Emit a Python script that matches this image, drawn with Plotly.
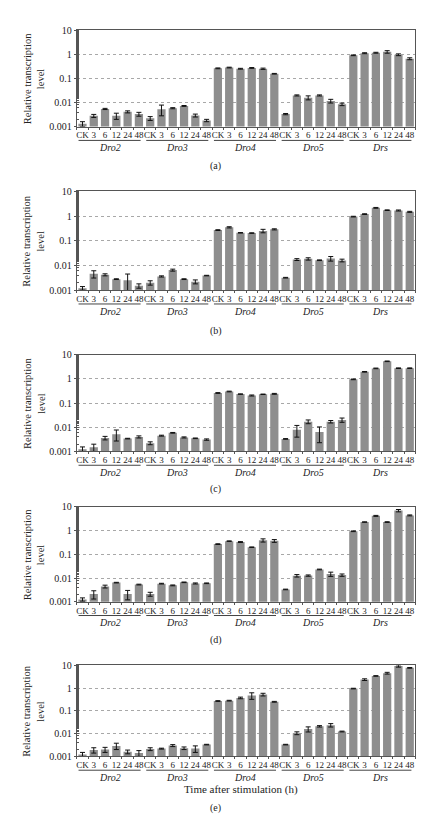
import plotly.graph_objects as go

# ---------------- data ----------------
genes = ["Dro2", "Dro3", "Dro4", "Dro5", "Drs"]
times = ["CK", "3", "6", "12", "24", "48"]
panel_labels = ["(a)", "(b)", "(c)", "(d)", "(e)"]

a_vals = [0.0013, 0.0028, 0.0054, 0.0028, 0.0041, 0.0033,
          0.0022, 0.0053, 0.0058, 0.0072, 0.0029, 0.0018,
          0.26, 0.28, 0.25, 0.27, 0.25, 0.155,
          0.0033, 0.0196, 0.0158, 0.0196, 0.0115, 0.0084,
          0.9, 1.1, 1.15, 1.25, 0.95, 0.65]
a_err = [0.0003, 0.0004, 0.0003, 0.0008, 0.0004, 0.0006,
         0.0004, 0.0025, 0.0003, 0.0003, 0.0004, 0.0002,
         0.01, 0.01, 0.01, 0.01, 0.015, 0.005,
         0.0002, 0.001, 0.003, 0.001, 0.002, 0.001,
         0.03, 0.05, 0.05, 0.15, 0.08, 0.06]

b_vals = [0.0012, 0.0046, 0.0042, 0.0028, 0.0025, 0.0015,
          0.0020, 0.0036, 0.0065, 0.0028, 0.0022, 0.0039,
          0.27, 0.35, 0.21, 0.205, 0.25, 0.29,
          0.0032, 0.0174, 0.0185, 0.0163, 0.019, 0.016,
          0.95, 1.2, 2.15, 1.73, 1.68, 1.48]
b_err = [0.0002, 0.0015, 0.0004, 0.0001, 0.002, 0.0003,
         0.0004, 0.0002, 0.0006, 0.0001, 0.0004, 0.0001,
         0.01, 0.02, 0.005, 0.005, 0.04, 0.015,
         0.0001, 0.0015, 0.002, 0.0005, 0.004, 0.002,
         0.03, 0.04, 0.08, 0.05, 0.08, 0.07]

c_vals = [0.00124, 0.0015, 0.0036, 0.0052, 0.0034, 0.0040,
          0.0022, 0.0045, 0.0059, 0.0038, 0.0035, 0.0031,
          0.26, 0.30, 0.234, 0.205, 0.23, 0.24,
          0.0033, 0.0079, 0.017, 0.0063, 0.017, 0.020,
          0.95, 1.95, 2.7, 5.3, 2.75, 2.75]
c_err = [0.0003, 0.0005, 0.0006, 0.0025, 0.0001, 0.0004,
         0.0003, 0.0002, 0.0002, 0.0002, 0.0001, 0.0002,
         0.01, 0.01, 0.005, 0.01, 0.005, 0.01,
         0.0001, 0.004, 0.003, 0.004, 0.002, 0.004,
         0.03, 0.06, 0.08, 0.15, 0.08, 0.08]

d_vals = [0.00125, 0.0021, 0.0044, 0.0064, 0.0021, 0.0053,
          0.0021, 0.0058, 0.0049, 0.0066, 0.0059, 0.0060,
          0.27, 0.36, 0.33, 0.20, 0.39, 0.37,
          0.0033, 0.0125, 0.0127, 0.023, 0.0147, 0.0133,
          0.94, 2.3, 4.2, 2.3, 7.0, 4.4]
d_err = [0.0002, 0.0008, 0.0006, 0.0002, 0.0009, 0.0002,
         0.0004, 0.0002, 0.0002, 0.0002, 0.0003, 0.0002,
         0.01, 0.01, 0.015, 0.005, 0.06, 0.05,
         0.0001, 0.0015, 0.0008, 0.0008, 0.003, 0.0015,
         0.03, 0.05, 0.2, 0.08, 0.8, 0.2]

e_vals = [0.0012, 0.0019, 0.0020, 0.0029, 0.0016, 0.0014,
          0.0021, 0.0022, 0.0030, 0.0023, 0.0022, 0.0033,
          0.27, 0.28, 0.37, 0.47, 0.52, 0.25,
          0.0033, 0.0105, 0.0158, 0.021, 0.0235, 0.0124,
          0.95, 2.35, 3.4, 4.5, 9.3, 7.7]
e_err = [0.0003, 0.0005, 0.0005, 0.0009, 0.0003, 0.0004,
         0.0003, 0.0001, 0.0003, 0.0003, 0.0007, 0.0001,
         0.01, 0.01, 0.03, 0.15, 0.07, 0.01,
         0.0001, 0.0015, 0.004, 0.0015, 0.004, 0.0005,
         0.03, 0.2, 0.1, 0.4, 1.0, 0.3]

y_tickvals = [0.001, 0.01, 0.1, 1, 10]
y_ticktext = ["0.001", "0.01", "0.1", "1", "10"]
y_title = "Relative transcription<br>level"
x_title = "Time after stimulation (h)"

panels_vals = [a_vals, b_vals, c_vals, d_vals, e_vals]
panels_err = [a_err, b_err, c_err, d_err, e_err]

# ---------------- layout geometry (pixels) ----------------
W, H = 440, 816
X0, X1 = 68, 407.3
# (top of plot, bottom of plot, caption y)
geom = [(16.3, 114.3, 154.5),
        (180.0, 280.3, 321.5),
        (345.7, 444.0, 482.5),
        (500.3, 596.5, 635.5),
        (661.0, 753.5, 806.0)]

SERIF = "Liberation Serif, Times New Roman, serif"
BAR_COLOR = "#8e8e8e"
FRAME = "#555555"

def py(px):
    return 1 - px / H

n = len(genes) * len(times)
xs = list(range(n))
xticktext = times * len(genes)

fig = go.Figure()
layout = dict(width=W, height=H, margin=dict(l=0, r=0, t=0, b=0),
              paper_bgcolor="white", plot_bgcolor="white",
              showlegend=False, bargap=0.27,
              font=dict(family=SERIF, color="#222222"))
annotations = []
shapes = []

for i in range(5):
    k = i + 1
    xa = "x" if k == 1 else f"x{k}"
    ya = "y" if k == 1 else f"y{k}"
    top, bot, cap = geom[i]
    fig.add_trace(go.Bar(
        x=xs, y=panels_vals[i], xaxis=xa, yaxis=ya,
        marker=dict(color=BAR_COLOR, line=dict(width=0)),
        error_y=dict(type="data", array=panels_err[i], visible=True,
                     color="#111111", thickness=1, width=2.5),
        hoverinfo="skip"))
    layout["xaxis" if k == 1 else f"xaxis{k}"] = dict(
        domain=[X0 / W, X1 / W], anchor=ya, range=[-0.5, n - 0.5],
        tickmode="array", tickvals=xs, ticktext=xticktext, tickangle=0,
        ticks="", tickfont=dict(family=SERIF, size=9, color="#222222"),
        showline=True, linecolor=FRAME, linewidth=1, mirror=True,
        showgrid=False, zeroline=False, fixedrange=True,
        minor=dict(tick0=-0.5, dtick=1, ticks="outside", ticklen=2,
                   tickcolor=FRAME, showgrid=False))
    layout["yaxis" if k == 1 else f"yaxis{k}"] = dict(
        domain=[py(bot), py(top)], anchor=xa, type="log", range=[-3, 1],
        tickmode="array", tickvals=y_tickvals, ticktext=y_ticktext,
        ticks="outside", ticklen=2, tickcolor=FRAME,
        tickfont=dict(family=SERIF, size=10, color="#222222"),
        showline=True, linecolor=FRAME, linewidth=1, mirror=True,
        showgrid=True, gridcolor="#a8a8a8", griddash="dot", gridwidth=1,
        zeroline=False, fixedrange=True,
        minor=dict(ticks="inside", ticklen=2, tickcolor=FRAME, showgrid=False))

    # gene group underlines and names
    for g, gene in enumerate(genes):
        shapes.append(dict(type="line", xref=xa, yref="paper",
                           x0=6 * g - 0.35, x1=6 * g + 5.15,
                           y0=py(bot + 14), y1=py(bot + 14),
                           line=dict(color="#444444", width=1)))
        annotations.append(dict(xref=xa, yref="paper", x=6 * g + 2.4,
                                y=py(bot + 21.5), text=f"<i>{gene}</i>",
                                showarrow=False, yanchor="middle",
                                font=dict(family=SERIF, size=10, color="#222222")))
    # y title
    annotations.append(dict(xref="paper", yref="paper", x=25 / W,
                            y=py((top + bot) / 2), text=y_title,
                            textangle=-90, showarrow=False,
                            xanchor="center", yanchor="middle",
                            font=dict(family=SERIF, size=10.5, color="#222222")))
    # caption
    annotations.append(dict(xref="paper", yref="paper", x=207 / W,
                            y=py(cap), text=panel_labels[i], showarrow=False,
                            xanchor="center", yanchor="middle",
                            font=dict(family=SERIF, size=10, color="#222222")))

annotations.append(dict(xref="paper", yref="paper", x=233 / W, y=py(787.5),
                        text=x_title, showarrow=False, xanchor="center",
                        yanchor="middle",
                        font=dict(family=SERIF, size=11, color="#222222")))

layout["annotations"] = annotations
layout["shapes"] = shapes
fig.update_layout(**layout)
fig.write_html("out.html")
